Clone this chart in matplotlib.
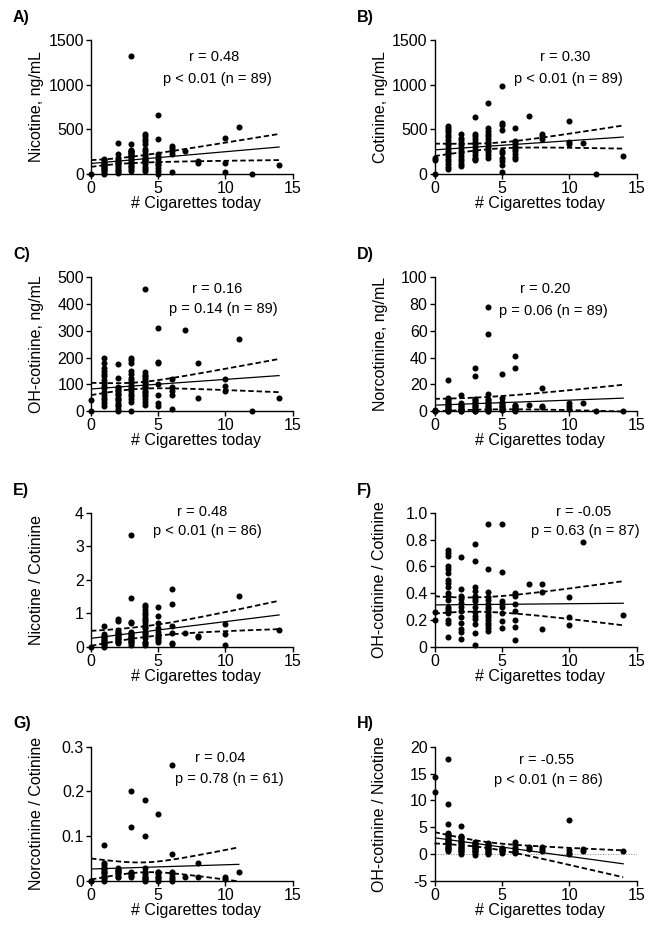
import numpy as np
import matplotlib.pyplot as plt

plt.rcParams['font.family'] = ['Liberation Sans', 'DejaVu Sans']
plt.rcParams['font.size'] = 10
plt.rcParams['axes.unicode_minus'] = False

# values per number of cigarettes smoked today
nicotine = {0: [0],
            1: [165, 150, 135, 120, 110, 95, 85, 75, 65, 55, 40, 25, 10, 0],
            2: [350, 220, 180, 155, 130, 115, 105, 85, 65, 45, 25, 5],
            3: [1320, 335, 270, 260, 250, 240, 230, 220, 210, 200, 190, 170, 150, 130, 110, 90, 70, 50, 30],
            4: [445, 420, 395, 370, 330, 280, 250, 220, 200, 180, 165, 155, 140, 130, 105, 80, 55, 30],
            5: [665, 385, 220, 190, 160, 130, 110, 100, 60, 30, 0],
            6: [310, 285, 255, 220, 20],
            7: [255], 8: [145, 115], 10: [400, 120, 15], 11: [525], 12: [0], 14: [95]}

cotinine = {0: [180, 150, 0],
            1: [540, 515, 490, 465, 440, 410, 380, 350, 320, 290, 260, 230, 200, 170, 140, 110, 80, 50],
            2: [450, 400, 380, 350, 320, 290, 260, 230, 200, 170, 140, 110, 90],
            3: [640, 450, 420, 390, 360, 330, 300, 270, 240, 210, 180, 165, 150],
            4: [790, 510, 480, 450, 420, 390, 360, 330, 300, 270, 240, 210, 180],
            5: [990, 570, 545, 490, 260, 230, 180, 140, 100, 20],
            6: [515, 370, 340, 310, 280, 250, 220, 190, 165],
            7: [645], 8: [450, 420, 390], 10: [590, 360, 330], 11: [345], 12: [0], 14: [200]}

oh_cotinine = {0: [40, 0],
               1: [200, 180, 160, 150, 140, 130, 115, 105, 95, 85, 70, 60, 50, 40, 30, 20],
               2: [175, 125, 90, 85, 80, 70, 65, 60, 50, 45, 40, 30, 25, 20, 10, 0],
               3: [200, 190, 180, 150, 140, 125, 115, 105, 95, 85, 75, 65, 55, 45, 35, 0],
               4: [455, 145, 135, 130, 125, 115, 110, 105, 95, 90, 85, 75, 70, 65, 55, 45, 35, 25],
               5: [310, 185, 180, 100, 60, 30, 20],
               6: [120, 90, 75, 60, 10],
               7: [305], 8: [180, 50], 10: [120, 95, 75], 11: [270], 12: [0], 14: [48]}

norcotinine = {0: [0, 1, 0],
               1: [23, 10, 9, 8, 7, 6, 5, 4, 3, 2, 2, 1, 1, 0, 0],
               2: [12, 6, 5, 4, 3, 2, 2, 1, 1, 0, 0],
               3: [32.5, 26, 9, 8, 7, 6, 5, 4, 3, 2, 1, 1, 0, 0],
               4: [77.5, 58, 13, 9, 8, 7, 6, 5, 4, 3, 2, 2, 1, 1, 0, 0],
               5: [28, 10, 7, 6, 5, 4, 3, 2, 1, 1],
               6: [41, 32, 5, 4, 3, 2, 2, 1, 1, 0],
               7: [5], 8: [17.5, 4, 3], 10: [6, 4, 2], 11: [6], 12: [0], 14: [0]}

nic_cot = {0: [0],
           1: [0.62, 0.38, 0.33, 0.3, 0.28, 0.23, 0.2, 0.18, 0.13, 0.1, 0.08, 0.04, 0],
           2: [0.83, 0.77, 0.5, 0.45, 0.42, 0.38, 0.35, 0.32, 0.27, 0.25, 0.22, 0.17, 0.15, 0.12],
           3: [3.35, 1.45, 0.75, 0.7, 0.45, 0.4, 0.38, 0.35, 0.3, 0.28, 0.25, 0.2, 0.18, 0.15, 0.1, 0.05],
           4: [1.25, 1.2, 1.1, 1.0, 0.95, 0.85, 0.8, 0.75, 0.65, 0.6, 0.55, 0.45, 0.4, 0.35, 0.25, 0.15, 0.1, 0.05],
           5: [1.18, 0.93, 0.7, 0.55, 0.45, 0.35, 0.3, 0.25, 0.2, 0.15],
           6: [1.73, 1.28, 0.62, 0.42, 0.12, 0.07],
           7: [0.4], 8: [0.33, 0.28], 10: [0.68, 0.37, 0.05], 11: [1.53], 14: [0.5]}

oh_cot = {0: [0.26, 0.2],
          1: [0.72, 0.7, 0.68, 0.6, 0.58, 0.55, 0.5, 0.48, 0.45, 0.4, 0.38, 0.35, 0.3, 0.28, 0.27, 0.25, 0.2, 0.18, 0.07],
          2: [0.67, 0.43, 0.38, 0.36, 0.33, 0.3, 0.27, 0.22, 0.18, 0.13, 0.11, 0.06],
          3: [0.77, 0.64, 0.45, 0.42, 0.38, 0.36, 0.34, 0.3, 0.26, 0.23, 0.21, 0.17, 0.1, 0.01],
          4: [0.92, 0.58, 0.41, 0.37, 0.35, 0.32, 0.3, 0.28, 0.26, 0.24, 0.22, 0.2, 0.18, 0.16, 0.14, 0.12],
          5: [0.92, 0.56, 0.34, 0.32, 0.3, 0.25, 0.19, 0.14],
          6: [0.4, 0.38, 0.32, 0.27, 0.2, 0.15, 0.05],
          7: [0.47], 8: [0.47, 0.41, 0.13], 10: [0.37, 0.22, 0.16], 11: [0.78], 14: [0.24]}

norcot_cot = {0: [0, 0],
              1: [0.08, 0.04, 0.035, 0.03, 0.03, 0.025, 0.02, 0.02, 0.015, 0.01, 0.01, 0.005, 0],
              2: [0.03, 0.025, 0.025, 0.02, 0.02, 0.015, 0.01, 0.01],
              3: [0.2, 0.12, 0.02, 0.018, 0.015, 0.012, 0.01],
              4: [0.18, 0.1, 0.03, 0.02, 0.015, 0.01, 0.01, 0.005, 0.005, 0],
              5: [0.15, 0.02, 0.02, 0.015, 0.01, 0.01, 0.005, 0],
              6: [0.26, 0.06, 0.02, 0.015, 0.01, 0.005, 0],
              7: [0.01], 8: [0.04, 0.01], 10: [0.01, 0.005], 11: [0.02]}

oh_nic = {0: [14.3, 11.5],
          1: [17.8, 9.4, 5.7, 4.0, 3.8, 3.6, 3.3, 3.0, 2.9, 2.7, 2.4, 2.2, 2.1, 1.8, 1.5, 1.4, 1.2, 1.0, 0.9, 0.6],
          2: [5.3, 3.4, 3.2, 3.1, 2.8, 2.5, 2.2, 2.0, 1.9, 1.6, 1.3, 1.1, 1.0, 0.7, 0.5, 0.4, 0.1],
          3: [2.3, 2.0, 1.9, 1.7, 1.4, 1.2, 1.1, 0.8, 0.6, 0.5, 0.2, -0.2],
          4: [2.1, 1.8, 1.6, 1.5, 1.2, 1.0, 0.9, 0.6, 0.4, 0.3, 0.0],
          5: [1.2, 1.0, 0.9, 0.6, 0.5, 0.3],
          6: [2.2, 1.3, 0.9, 0.6, 0.4, 0.2],
          7: [1.3, 1.0], 8: [1.4, 1.0, 0.6], 10: [6.3, 0.8, 0.3, 0.0], 11: [0.9, 0.5], 14: [0.5]}

# regression line at x=0 and at the last x, half width of 95% band at x=0, middle, last x
fits = [[115, 300], [268, 412], [83, 133], [4.5, 9.75],
        [0.25, 0.95], [0.3125, 0.325], [0.0268, 0.0372], [3.05, -1.8]]
bands = [[38, 70, 147], [70, 46, 130], [23, 24, 62], [4.75, 5.8, 10],
         [0.225, 0.2, 0.425], [0.065, 0.08, 0.165], [0.0235, 0.0135, 0.038], [1.05, 0.95, 2.5]]
x_end = [14, 14, 14, 14, 14, 14, 11, 14]

datasets = [nicotine, cotinine, oh_cotinine, norcotinine, nic_cot, oh_cot, norcot_cot, oh_nic]
letters = ['A)', 'B)', 'C)', 'D)', 'E)', 'F)', 'G)', 'H)']
ylabels = ['Nicotine, ng/mL', 'Cotinine, ng/mL', 'OH-cotinine, ng/mL', 'Norcotinine, ng/mL',
           'Nicotine / Cotinine', 'OH-cotinine / Cotinine', 'Norcotinine / Cotinine',
           'OH-cotinine / Nicotine']
yticks = [[0, 500, 1000, 1500], [0, 500, 1000, 1500], [0, 100, 200, 300, 400, 500],
          [0, 20, 40, 60, 80, 100], [0, 1, 2, 3, 4], [0, 0.2, 0.4, 0.6, 0.8, 1.0],
          [0, 0.1, 0.2, 0.3], [-5, 0, 5, 10, 15, 20]]
yticklabels = [None, None, None, None, None,
               ['0', '0.2', '0.4', '0.6', '0.8', '1.0'], ['0', '0.1', '0.2', '0.3'], None]
r_text = ['r = 0.48', 'r = 0.30', 'r = 0.16', 'r = 0.20', 'r = 0.48', 'r = -0.05', 'r = 0.04', 'r = -0.55']
p_text = ['p < 0.01 (n = 89)', 'p < 0.01 (n = 89)', 'p = 0.14 (n = 89)', 'p = 0.06 (n = 89)',
          'p < 0.01 (n = 86)', 'p = 0.63 (n = 87)', 'p = 0.78 (n = 61)', 'p < 0.01 (n = 86)']
r_pos = [(0.61, 0.873), (0.646, 0.873), (0.624, 0.916), (0.546, 0.916),
         (0.552, 1.01), (0.736, 1.01), (0.642, 0.913), (0.556, 0.903)]
p_pos = [(0.628, 0.709), (0.661, 0.709), (0.655, 0.766), (0.587, 0.75),
         (0.577, 0.863), (0.744, 0.863), (0.685, 0.759), (0.564, 0.749)]

W, H = 645, 925
fig = plt.figure(figsize=(W / 100, H / 100), dpi=100)

cols = [(91, 292.5), (434.5, 636.7)]
rows = [(40.3, 173.7), (277.3, 411.2), (513, 646.7), (746.7, 881)]

for i in range(8):
    (l, r), (t, b) = cols[i % 2], rows[i // 2]
    ax = fig.add_axes([l / W, 1 - b / H, (r - l) / W, (b - t) / H])
    data = datasets[i]
    xs = np.concatenate([[k] * len(v) for k, v in data.items()])
    ys = np.concatenate([v for v in data.values()])
    ax.scatter(xs, ys, s=19, color='black', zorder=3, clip_on=False, linewidths=0)

    # regression line and 95% confidence band
    xe = x_end[i]
    xl = np.linspace(0, xe, 100)
    fit = fits[i][0] + (fits[i][1] - fits[i][0]) * xl / xe
    c = np.polyfit([0, xe / 2, xe], np.array(bands[i]) ** 2, 2)
    hw = np.sqrt(np.clip(np.polyval(c, xl), 0, None))
    ax.plot(xl, fit, color='black', lw=0.9, zorder=4)
    ax.plot(xl, fit + hw, color='black', lw=1.3, ls=(0, (3, 1.6)), zorder=4)
    ax.plot(xl, fit - hw, color='black', lw=1.3, ls=(0, (3, 1.6)), zorder=4, clip_on=False)

    if i == 7:
        ax.axhline(0, color='grey', lw=0.7, ls=':', zorder=2)

    ax.set_xlim(0, 15)
    ax.set_ylim(yticks[i][0], yticks[i][-1])
    ax.set_xticks([0, 5, 10, 15])
    ax.set_yticks(yticks[i])
    if yticklabels[i] is not None:
        ax.set_yticklabels(yticklabels[i])
    for s in ['top', 'right']:
        ax.spines[s].set_visible(False)
    for s in ['left', 'bottom']:
        ax.spines[s].set_linewidth(1.0)
    ax.tick_params(direction='out', length=3.5, width=1.0, pad=1.5, labelsize=11.5)

    ax.set_ylabel(ylabels[i], fontsize=11.5)
    ax.yaxis.set_label_coords(-47 / (r - l), 0.5)
    ax.set_xlabel('# Cigarettes today', fontsize=11.5)
    ax.xaxis.set_label_coords(0.52, -22 / (b - t))

    ax.text(*r_pos[i], r_text[i], transform=ax.transAxes, ha='center', va='center', fontsize=10.5)
    ax.text(*p_pos[i], p_text[i], transform=ax.transAxes, ha='center', va='center', fontsize=10.5)

    fig.text((l - 78) / W, 1 - (t - 23) / H, letters[i], fontweight='bold', fontsize=11.5,
             ha='left', va='center')

fig.savefig('out.png', dpi=100)
